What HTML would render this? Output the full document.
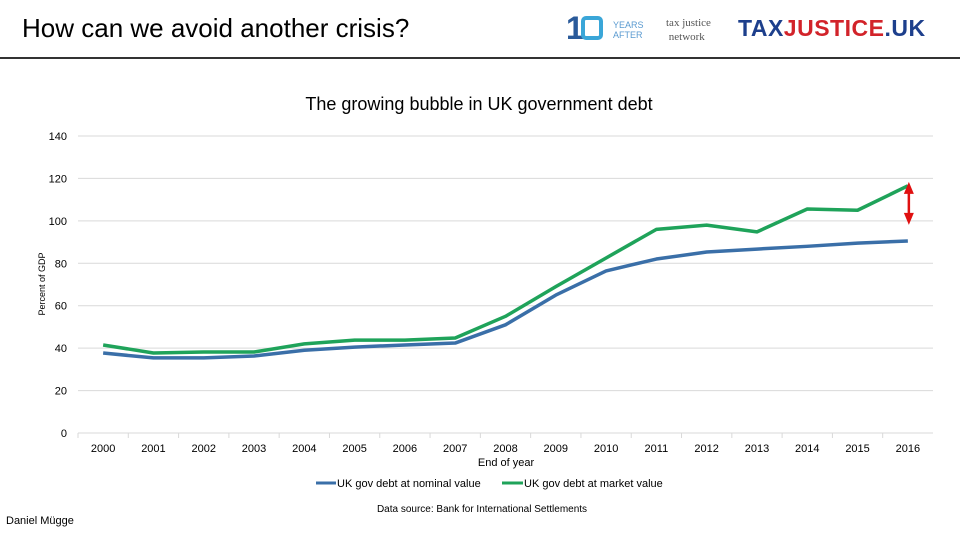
<!DOCTYPE html>
<html><head><meta charset="utf-8"><style>
body{margin:0;width:960px;height:540px;background:#fff;font-family:"Liberation Sans",sans-serif;overflow:hidden;position:relative}
.abs{position:absolute}
</style></head><body>
<div class="abs" style="left:22px;top:13px;font-size:26px;color:#000">How can we avoid another crisis?</div>
<div class="abs" style="left:566px;top:14px;width:90px;height:32px">
<span style="position:absolute;left:0;top:-4px;font-size:32px;font-weight:bold;color:#2a5a9a">1</span>
<span style="position:absolute;left:15px;top:2px;width:22px;height:24px;border:4px solid #3aa6d8;border-radius:5px;box-sizing:border-box"></span>
<span style="position:absolute;left:47px;top:6px;font-size:9px;color:#5a9ad0;line-height:10px">YEARS<br>AFTER</span>
</div>
<div class="abs" style="left:666px;top:16px;font-size:11px;color:#555;line-height:14px;font-family:'Liberation Serif',serif">tax justice<br>&nbsp;network</div>
<div class="abs" style="left:738px;top:15px;font-size:23px;font-weight:bold;letter-spacing:0.5px"><span style="color:#1d3f8c">TAX</span><span style="color:#d2232a">JUSTICE</span><span style="color:#1d3f8c">.UK</span></div>
<div class="abs" style="left:0;top:57px;width:960px;height:1.5px;background:#333"></div>
<div class="abs" style="left:6px;top:515px;font-size:11px;color:#000">Daniel Mügge</div>
<svg class="abs" style="left:0;top:0" width="960" height="540">
<g id="chart"></g>
</svg>
<script>
const years=["2000","2001","2002","2003","2004","2005","2006","2007","2008","2009","2010","2011","2012","2013","2014","2015","2016"];
const nominal=[37.7,35.4,35.4,36.3,39,40.5,41.5,42.4,51,65,76.4,82,85.3,86.7,88,89.5,90.5];
const market=[41.5,37.7,38.2,38.2,42,43.8,43.8,44.8,55,69,82.5,96,98,94.8,105.6,105,116.5];
const yTicks=[0,20,40,60,80,100,120,140];
const NS="http://www.w3.org/2000/svg";
const g=document.getElementById('chart');
const x0=78,x1=933,y0=433,y1=136;
const xs=i=>x0+(x1-x0)*(i+0.5)/years.length;
const ys=v=>y0-(y0-y1)*v/140;
function el(t,a){const e=document.createElementNS(NS,t);for(const k in a)e.setAttribute(k,a[k]);g.appendChild(e);return e;}
function txt(s,a){const e=el('text',Object.assign({'font-family':'Liberation Sans, sans-serif','font-size':11,fill:'#000'},a));e.textContent=s;return e;}
const title=txt("The growing bubble in UK government debt",{x:479,y:110,'text-anchor':'middle','font-size':18});

yTicks.forEach(v=>{
 const l=el('line',{x1:x0,x2:x1,y1:ys(v),y2:ys(v),stroke:'#d9d9d9','stroke-width':1});
 
 const t=txt(String(v),{x:67,y:ys(v)+4,'text-anchor':'end'});
 
});
years.forEach((y,i)=>{
 const tk=el('line',{x1:x0+(x1-x0)*i/years.length,x2:x0+(x1-x0)*i/years.length,y1:y0,y2:y0+5,stroke:'#d9d9d9'});
 
 const t=txt(y,{x:xs(i),y:452,'text-anchor':'middle'});
 
});
const xt=txt("End of year",{x:506,y:466,'text-anchor':'middle'});

const yt=txt("Percent of GDP",{x:0,y:0,'text-anchor':'middle','font-size':9,transform:'translate(45,284) rotate(-90)'});

function line(data,color,name){
 const p=el('polyline',{points:data.map((v,i)=>xs(i)+','+ys(v)).join(' '),fill:'none',stroke:color,'stroke-width':3.5,'stroke-linejoin':'round'});
 
}
line(nominal,'#3a6fa8','series-nominal-line');
line(market,'#1fa35a','series-market-line');
const n=years.length-1,ax=xs(n)+1;
const a=el('line',{x1:ax,x2:ax,y1:ys(market[n])+6,y2:ys(100)-6,stroke:'#e01010','stroke-width':2.5});

const h1=el('polygon',{points:`${ax-5},${ys(market[n])+8} ${ax+5},${ys(market[n])+8} ${ax},${ys(market[n])-4}`,fill:'#e01010'});

const h2=el('polygon',{points:`${ax-5},${ys(100)-8} ${ax+5},${ys(100)-8} ${ax},${ys(100)+4}`,fill:'#e01010'});

const l1=el('line',{x1:316,x2:336,y1:483,y2:483,stroke:'#3a6fa8','stroke-width':3});

const lt1=txt("UK gov debt at nominal value",{x:337,y:487});

const l2=el('line',{x1:502,x2:523,y1:483,y2:483,stroke:'#1fa35a','stroke-width':3});

const lt2=txt("UK gov debt at market value",{x:524,y:487});

const src=txt("Data source: Bank for International Settlements",{x:482,y:512,'text-anchor':'middle','font-size':10});

</script>
</body></html>
